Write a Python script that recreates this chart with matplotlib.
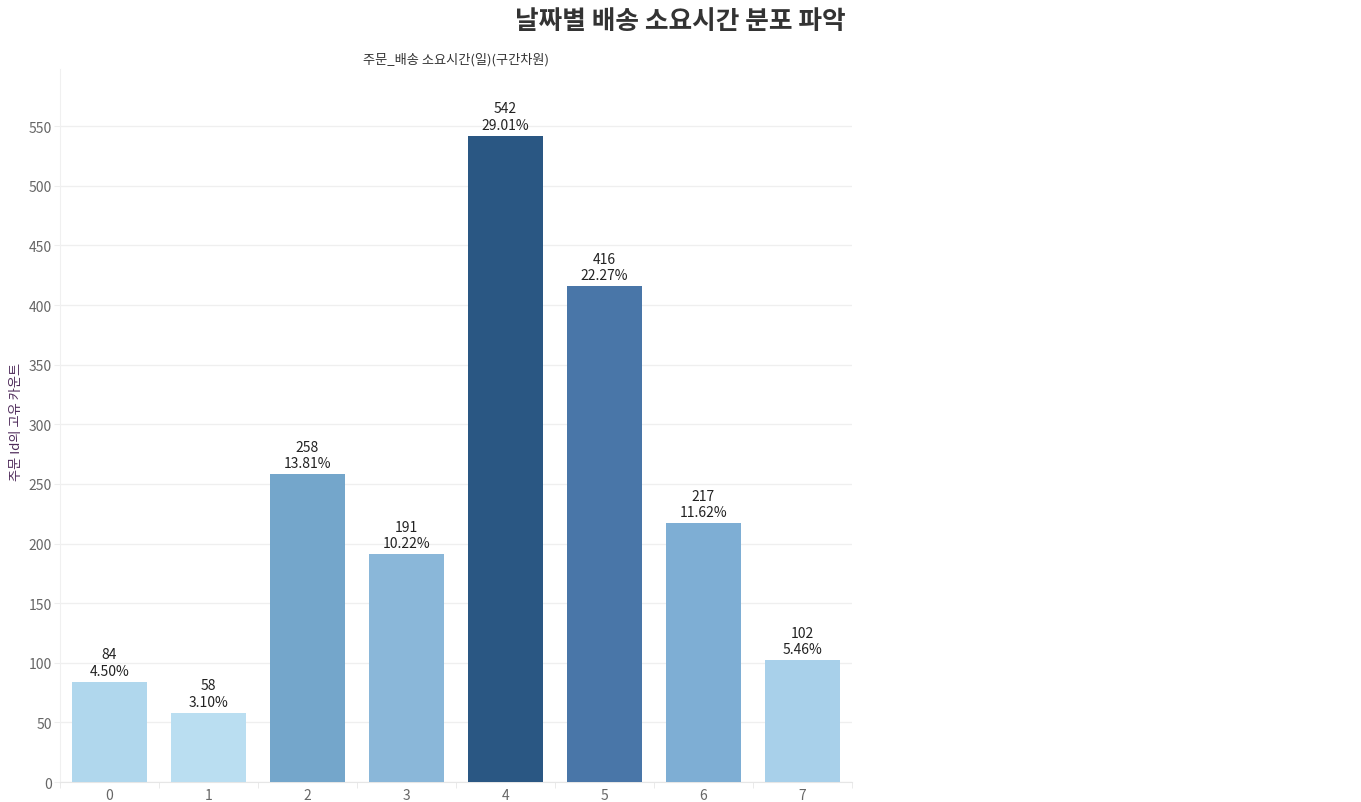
import matplotlib
matplotlib.use('Agg')
import matplotlib.pyplot as plt

plt.rcParams['font.family'] = ['Noto Sans CJK KR', 'DejaVu Sans']

# 데이터
days = ['0', '1', '2', '3', '4', '5', '6', '7']
counts = [84, 58, 258, 191, 542, 416, 217, 102]
percents = ['4.50%', '3.10%', '13.81%', '10.22%', '29.01%', '22.27%', '11.62%', '5.46%']
bar_colors = ['#b0d7ed', '#badef1', '#74a6cb', '#8ab7d9', '#2a5783', '#4976a8', '#7eaed4', '#a8d0ea']

fig = plt.figure(figsize=(13.61, 8.03), dpi=100)
ax = fig.add_axes([0.0441, 0.0249, 0.5819, 0.8879])

x = list(range(len(days)))
ax.bar(x, counts, width=0.75, color=bar_colors, zorder=3)

for i, (c, p) in enumerate(zip(counts, percents)):
    ax.annotate(f'{c}\n{p}', (i, c), xytext=(0, 3), textcoords='offset points',
                ha='center', va='bottom', fontsize=10, color='#222222',
                linespacing=1.2)

ax.set_xlim(-0.5, 7.5)
ax.set_ylim(0, 598)
ax.set_yticks(range(0, 551, 50))
ax.set_xticks(x)
ax.set_xticklabels(days)
ax.tick_params(axis='x', length=0, labelsize=10, colors='#666666', pad=4)
ax.tick_params(axis='y', length=4, color='#eeeeee', labelsize=10, colors='#666666', pad=2)
ax.set_xticks([i + 0.5 for i in range(-1, 8)], minor=True)
ax.tick_params(axis='x', which='minor', length=4, color='#e6e6e6')

ax.grid(axis='y', color='#efefef', linewidth=0.9, zorder=0)
for s in ['top', 'right']:
    ax.spines[s].set_visible(False)
ax.spines['left'].set_color('#f0f0f0')
ax.spines['bottom'].set_color('#e6e6e6')

fig.text(0.012, 0.474, '주문 Id의 고유 카운트', rotation=90, ha='center', va='center',
         fontsize=9.5, color='#4e2a5a')
fig.text(0.335, 0.925, '주문_배송 소요시간(일)(구간차원)', ha='center', va='center',
         fontsize=9.5, color='#333333')
fig.text(0.5, 0.973, '날짜별 배송 소요시간 분포 파악', ha='center', va='center',
         fontsize=18.5, fontweight='bold', color='#333333')

fig.savefig('out.png', dpi=100)
